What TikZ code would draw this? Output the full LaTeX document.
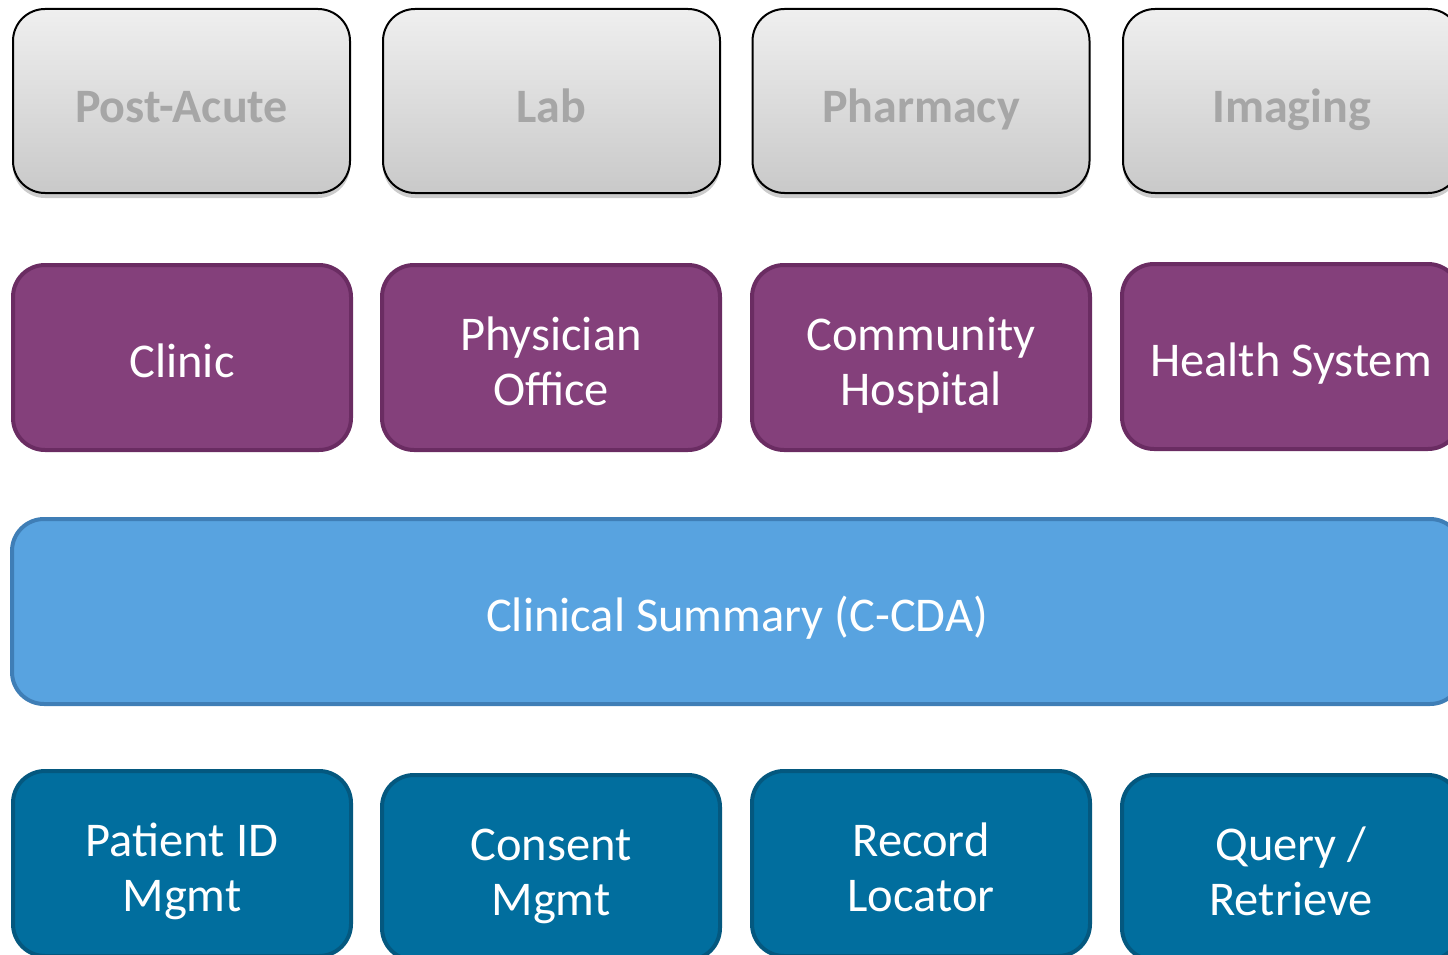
\documentclass[tikz,border=0pt]{standalone}
\usepackage{fontspec}
\setmainfont{Carlito}
\usetikzlibrary{shadows}
\definecolor{greyText}{HTML}{A6A6A6}
\definecolor{greyTop}{HTML}{EFEFEF}
\definecolor{greyBot}{HTML}{C9C9C9}
\definecolor{purpleFill}{HTML}{84407B}
\definecolor{purpleLine}{HTML}{6A2C62}
\definecolor{skyFill}{HTML}{58A3E0}
\definecolor{skyLine}{HTML}{3F7EB6}
\definecolor{navyFill}{HTML}{016E9E}
\definecolor{navyLine}{HTML}{04587F}
\newcommand\boxtext[2][9pt]{\raisebox{-#1}[\height][\depth]{\begin{tabular}{@{}c@{}}#2\end{tabular}}}
\tikzset{
  basebox/.style={rectangle, rounded corners=32pt, inner sep=0pt, align=center,
    font=\fontsize{48.5}{55}\selectfont},
  greybox/.style={basebox, draw=black, line width=2pt, top color=greyTop, bottom color=greyBot,
    text=greyText, font=\fontsize{48}{55}\selectfont\bfseries,
    minimum width=337pt, minimum height=184pt,
    drop shadow={shadow xshift=0pt, shadow yshift=-5pt, opacity=0.4}},
  purplebox/.style={basebox, draw=purpleLine, line width=4pt, fill=purpleFill, text=white,
    minimum width=338pt, minimum height=185pt},
  skybox/.style={basebox, draw=skyLine, line width=4pt, fill=skyFill, text=white,
    minimum width=1450pt, minimum height=185pt},
  navybox/.style={basebox, draw=navyLine, line width=4pt, fill=navyFill, text=white,
    minimum width=338pt, minimum height=185pt},
}
\begin{document}
\begin{tikzpicture}[x=1pt, y=-1pt]
\useasboundingbox (0,0) rectangle (1448,955);
\clip (0,0) rectangle (1448,955);
% top row
\node[greybox] (postacute) at (181.5,101) {\boxtext[11pt]{Post-Acute}};
\node[greybox] (lab) at (551.5,101) {\boxtext[11pt]{Lab}};
\node[greybox] (pharmacy) at (921,101) {\boxtext[11pt]{Pharmacy}};
\node[greybox] (imaging) at (1291.5,101) {\boxtext[11pt]{Imaging}};
% purple row
\node[purplebox] (clinic) at (182,357.5) {\boxtext{Clinic}};
\node[purplebox] (physician) at (551,357.5) {\boxtext{Physician\\Office}};
\node[purplebox] (community) at (921,357.5) {\boxtext{Community\\Hospital}};
\node[purplebox] (health) at (1291,356.5) {\boxtext{Health System}};
% summary bar
\node[skybox] (summary) at (737,611.5) {\boxtext{Clinical Summary (C-CDA)}};
% bottom row
\node[navybox] (patientid) at (182,863.5) {\boxtext{Patient ID\\Mgmt}};
\node[navybox] (consent) at (551,867.5) {\boxtext{Consent\\Mgmt}};
\node[navybox] (locator) at (921,863.5) {\boxtext{Record\\Locator}};
\node[navybox] (query) at (1291,867.5) {\boxtext{Query /\\Retrieve}};
\end{tikzpicture}
\end{document}
